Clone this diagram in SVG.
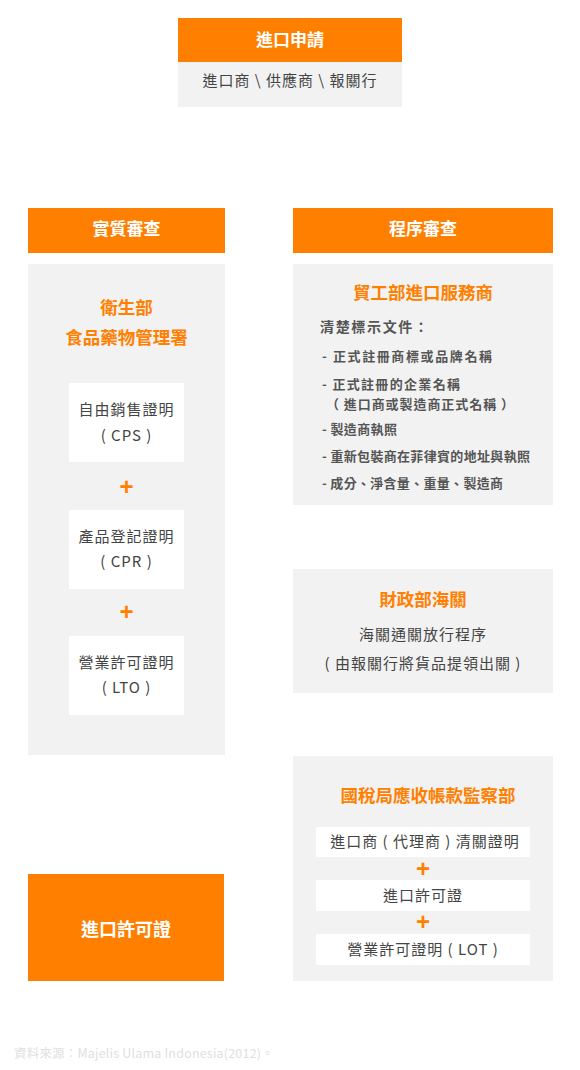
<svg xmlns="http://www.w3.org/2000/svg" width="580" height="1070" viewBox="0 0 580 1070">
<style>
.or{fill:#FF8000}
.gr{fill:#F2F2F2}
.wh{fill:#FFFFFF}
text{font-family:"Noto Sans CJK TC","Noto Sans CJK SC",sans-serif}
.hd{fill:#FFFFFF;font-size:17px;font-weight:bold;text-anchor:middle}
.ti{fill:#FF8000;font-size:17.5px;font-weight:bold;text-anchor:middle}
.bd{fill:#444444;font-size:15px;letter-spacing:1px;text-anchor:middle}
.it{fill:#555555;font-size:13px;font-weight:bold}
.pl{fill:#FF8000;font-family:"Liberation Sans",sans-serif;font-size:24px;font-weight:bold;text-anchor:middle}
.ft{fill:#E0E0E0;font-size:12.5px;letter-spacing:0.2px}
</style>
<rect width="580" height="1070" fill="#FFFFFF"/>
<g id="apply">
<rect class="or" x="178" y="18" width="224" height="44"/>
<rect class="gr" x="178" y="62" width="224" height="45"/>
<text class="hd" x="290" y="46">進口申請</text>
<text class="bd" x="290" y="86">進口商 \ 供應商 \ 報關行</text>
</g>
<g id="substantive-header">
<rect class="or" x="28" y="208" width="197" height="45"/>
<text class="hd" x="126.5" y="235">實質審查</text>
</g>
<g id="procedure-header">
<rect class="or" x="293" y="208" width="260" height="45"/>
<text class="hd" x="423" y="235">程序審查</text>
</g>
<g id="fda">
<rect class="gr" x="28" y="264" width="197" height="491"/>
<text class="ti" x="126.5" y="314">衛生部</text>
<text class="ti" x="126.5" y="344">食品藥物管理署</text>
<rect class="wh" x="69" y="383" width="115" height="79"/>
<text class="bd" x="126.5" y="415">自由銷售證明</text>
<text class="bd" x="126.5" y="441">( CPS )</text>
<text class="pl" x="126.5" y="495">+</text>
<rect class="wh" x="69" y="510" width="115" height="79"/>
<text class="bd" x="126.5" y="542">產品登記證明</text>
<text class="bd" x="126.5" y="567">( CPR )</text>
<text class="pl" x="126.5" y="620">+</text>
<rect class="wh" x="69" y="636" width="115" height="79"/>
<text class="bd" x="126.5" y="668">營業許可證明</text>
<text class="bd" x="126.5" y="693">( LTO )</text>
</g>
<g id="dti">
<rect class="gr" x="293" y="264" width="260" height="241"/>
<text class="ti" x="423" y="299">貿工部進口服務商</text>
<text class="it" x="320" y="332" style="font-size:14px" textLength="108" lengthAdjust="spacing">清楚標示文件：</text>
<text class="it" x="322" y="361" textLength="170" lengthAdjust="spacing">- 正式註冊商標或品牌名稱</text>
<text class="it" x="322" y="389" textLength="138" lengthAdjust="spacing">- 正式註冊的企業名稱</text>
<text class="it" x="326" y="409" textLength="188" lengthAdjust="spacing">（ 進口商或製造商正式名稱 ）</text>
<text class="it" x="322" y="434" textLength="75" lengthAdjust="spacing">- 製造商執照</text>
<text class="it" x="322" y="461" textLength="208" lengthAdjust="spacing">- 重新包裝商在菲律賓的地址與執照</text>
<text class="it" x="322" y="488" textLength="181" lengthAdjust="spacing">- 成分、淨含量、重量、製造商</text>
</g>
<g id="customs">
<rect class="gr" x="293" y="569" width="260" height="124"/>
<text class="ti" x="423" y="606">財政部海關</text>
<text class="bd" x="423" y="640">海關通關放行程序</text>
<text class="bd" x="423" y="669">( 由報關行將貨品提領出關 )</text>
</g>
<g id="bir">
<rect class="gr" x="293" y="756" width="260" height="225"/>
<text class="ti" x="428" y="802">國稅局應收帳款監察部</text>
<rect class="wh" x="316" y="827" width="214" height="30"/>
<text class="bd" x="425" y="847">進口商 ( 代理商 ) 清關證明</text>
<text class="pl" x="423" y="877">+</text>
<rect class="wh" x="316" y="880" width="214" height="31"/>
<text class="bd" x="423" y="901">進口許可證</text>
<text class="pl" x="423" y="930">+</text>
<rect class="wh" x="316" y="934" width="214" height="31"/>
<text class="bd" x="423" y="955">營業許可證明 ( LOT )</text>
</g>
<g id="permit">
<rect class="or" x="28" y="874" width="196" height="107"/>
<text class="hd" x="126" y="936" style="font-size:18px">進口許可證</text>
</g>
<g id="connectors"></g>
<text class="ft" x="14" y="1058">資料來源：Majelis Ulama Indonesia(2012)。</text>
</svg>
